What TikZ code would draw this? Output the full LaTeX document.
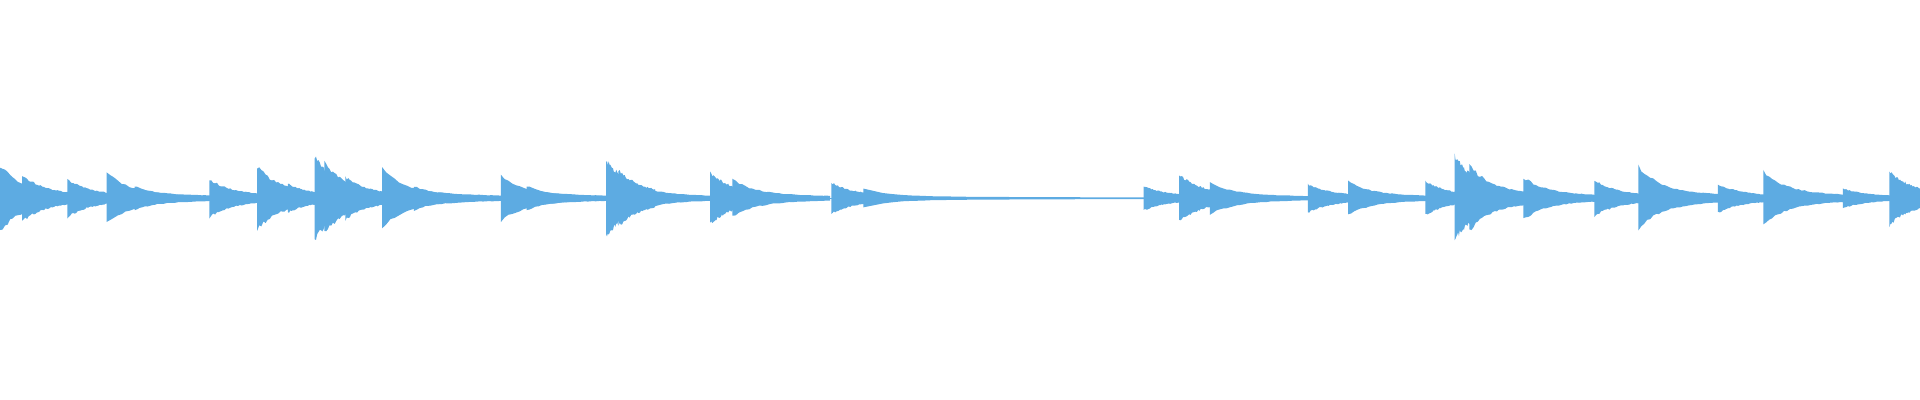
\documentclass[tikz,border=0pt]{standalone}
\usepackage{tikz}
\definecolor{wave}{HTML}{5DABE2}
\tikzset{wave/.style={fill=wave, draw=none}}
\begin{document}
\begin{tikzpicture}[x=1.2245pt, y=1.2245pt]
\useasboundingbox (0,0) rectangle (1568,326.6);
\pgfmathsetseed{7}
% base line
\fill[wave] (0,164.1) rectangle (1568,165.3);
% onsets: position / amplitude / length
\foreach \o/\a/\l in {0/28/60, 18/20/40, 55/16/35, 87/22/90, 110/10/60,
  171/16/45, 210/27/50, 235/12/30, 257/36/30, 265/30/40, 282/18/35, 312/25/100, 338/10/70,
  409/20/90, 430/10/70, 495/33/20, 505/24/30, 515/14/70, 580/22/25, 598/16/80,
  679/13/30, 705/8/230, 934/10/30, 963/20/30, 988/14/80,
  1068/12/35, 1101/14/70, 1164/14/28, 1188/36/20, 1200/28/50, 1244/18/60,
  1302/15/40, 1338/27/70, 1403/12/40, 1440/23/70, 1505/8/40, 1543/23/25}
{
  \fill[wave] (\o,164.7) -- plot[domain=0:\l, samples=30]
      ({\o+\x}, {164.7+\a*(0.8*exp(-\x/18)+0.2*exp(-\x/90))*(0.85+0.15*rnd)+0.6})
    -- plot[domain=\l:0, samples=30]
      ({\o+\x}, {164.7-\a*(0.8*exp(-\x/18)+0.2*exp(-\x/90))*(0.85+0.15*rnd)-0.6}) -- cycle;
}
\end{tikzpicture}
\end{document}
